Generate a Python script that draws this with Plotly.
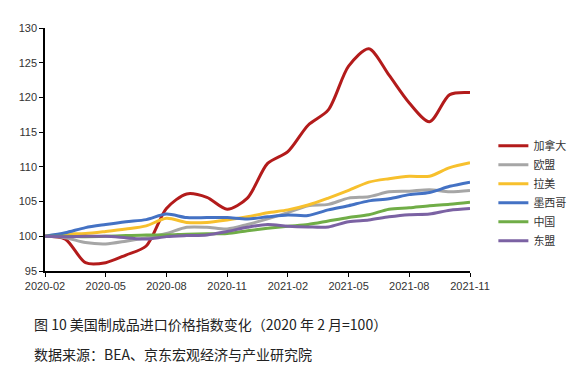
import plotly.graph_objects as go

months = ["2020-02","2020-03","2020-04","2020-05","2020-06","2020-07","2020-08","2020-09",
          "2020-10","2020-11","2020-12","2021-01","2021-02","2021-03","2021-04","2021-05",
          "2021-06","2021-07","2021-08","2021-09","2021-10","2021-11"]

canada = [100, 99.6, 96.2, 96.2, 97.3, 98.6, 104.0, 106.1, 105.6, 103.9, 105.5, 110.5,
          112.2, 116.0, 118.2, 124.5, 127.0, 123.2, 119.2, 116.5, 120.4, 120.7]
eu = [100, 99.8, 99.1, 98.9, 99.3, 99.8, 100.4, 101.3, 101.3, 101.05, 101.7, 102.5,
      103.4, 104.4, 104.6, 105.5, 105.7, 106.4, 106.5, 106.7, 106.4, 106.6]
latam = [100, 100.3, 100.4, 100.7, 101.05, 101.5, 102.6, 102.0, 102.0, 102.35, 102.8, 103.4,
         103.8, 104.5, 105.5, 106.6, 107.8, 108.3, 108.65, 108.65, 109.9, 110.6]
mexico = [100, 100.5, 101.25, 101.7, 102.1, 102.4, 103.2, 102.7, 102.7, 102.7, 102.5, 102.8,
          103.05, 103.0, 103.8, 104.4, 105.1, 105.4, 106.0, 106.3, 107.2, 107.8]
china = [100, 100.0, 99.95, 100.0, 100.1, 100.2, 100.2, 100.3, 100.35, 100.4, 100.8, 101.15,
         101.45, 101.7, 102.2, 102.7, 103.1, 103.9, 104.1, 104.4, 104.6, 104.9]
asean = [100, 99.95, 100.0, 100.0, 99.8, 99.6, 99.95, 100.1, 100.2, 100.7, 101.3, 101.7,
         101.45, 101.35, 101.35, 102.1, 102.35, 102.8, 103.1, 103.2, 103.75, 104.0]

series = [
    ("加拿大", canada, "#B31B1B"),
    ("欧盟", eu, "#A6A6A6"),
    ("拉美", latam, "#F7C02D"),
    ("墨西哥", mexico, "#4472C4"),
    ("中国", china, "#70AD47"),
    ("东盟", asean, "#7B62A3"),
]

y_ticks = [95, 100, 105, 110, 115, 120, 125, 130]
x_ticks = ["2020-02","2020-05","2020-08","2020-11","2021-02","2021-05","2021-08","2021-11"]

fig = go.Figure()
for name, vals, col in series:
    fig.add_trace(go.Scatter(
        x=months, y=vals, name=name, mode="lines",
        line=dict(color=col, width=3, shape="spline", smoothing=0.8),
    ))

fig.update_layout(
    width=575, height=371,
    margin=dict(l=37, r=104, t=20, b=108),
    paper_bgcolor="white", plot_bgcolor="white",
    font=dict(family="Arial, Liberation Sans, sans-serif", size=11, color="#333333"),
    showlegend=True,
    legend=dict(
        x=1.055, y=0.575, xanchor="left", yanchor="top",
        font=dict(family="Noto Sans CJK SC", size=11, color="#333333"),
        bgcolor="rgba(0,0,0,0)", tracegroupgap=0, itemwidth=30,
    ),
)
fig.update_xaxes(
    type="category", range=[0, 21], tickmode="array", tickvals=x_ticks, ticktext=x_ticks,
    showline=True, linecolor="black", linewidth=1.5, ticks="outside", ticklen=4,
    tickcolor="black", showgrid=False, zeroline=False,
)
fig.update_yaxes(
    range=[95, 130], tickmode="array", tickvals=y_ticks,
    showline=True, linecolor="black", linewidth=1.5, ticks="outside", ticklen=4,
    tickcolor="black", showgrid=False, zeroline=False,
)

fig.add_annotation(
    text="图 10 美国制成品进口价格指数变化（2020 年 2 月=100）",
    xref="paper", yref="paper", x=-0.03, y=-0.22, xanchor="left", yanchor="middle",
    showarrow=False, font=dict(family="Noto Sans CJK SC", size=14, color="#222222"),
)
fig.add_annotation(
    text="数据来源：BEA、京东宏观经济与产业研究院",
    xref="paper", yref="paper", x=-0.03, y=-0.343, xanchor="left", yanchor="middle",
    showarrow=False, font=dict(family="Noto Sans CJK SC", size=14, color="#222222"),
)

fig.write_html("out.html")
